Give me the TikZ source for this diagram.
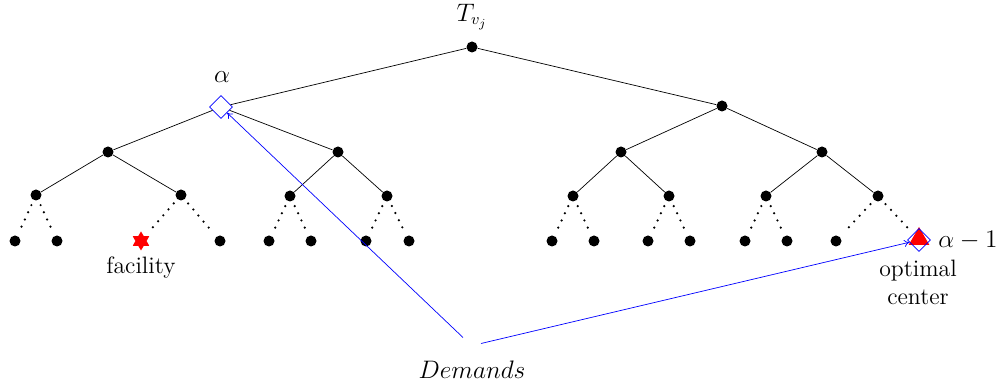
\documentclass[tikz,border=0pt]{standalone}
\usepackage{amsmath,amssymb}
\usetikzlibrary{arrows.meta,positioning,shapes.geometric}

\tikzset{
  vtx/.style={circle,fill=black,inner sep=0pt,minimum size=0.22cm},
  dia/.style={diamond,draw=blue,inner sep=0pt,minimum size=0.46cm},
  lbl/.style={font=\fontsize{13.5}{16}\selectfont},
  dots/.style={line width=1.4pt,dash pattern=on 0pt off 4.5pt,line cap=round,shorten <=3pt,shorten >=3pt},
  dem/.style={draw=blue,-{To[length=3pt,width=4pt]}}
}

\begin{document}
\begin{tikzpicture}[scale=1]
			\useasboundingbox (0,0) rectangle (20,7.74);
			% top
			\node[vtx] (r) at (9.44,6.80) {};
			\node[dia] (a) at (4.42,5.60) {};
			\node[vtx] (b) at (14.44,5.62) {};
			\node[lbl] (rl) at (9.44,7.40) {$T_{v_j}$};
			\node[lbl] (al) at (4.44,6.20) {$\alpha$};

			% second level
			\node[vtx] (a1) at (2.16,4.70) {};
			\node[vtx] (a2) at (6.76,4.70) {};
			\node[vtx] (b1) at (12.42,4.70) {};
			\node[vtx] (b2) at (16.44,4.70) {};

			% third level
			\node[vtx] (c1) at (0.72,3.84) {};
			\node[vtx] (c2) at (3.62,3.84) {};
			\node[vtx] (c3) at (5.80,3.82) {};
			\node[vtx] (c4) at (7.74,3.82) {};
			\node[vtx] (c5) at (11.46,3.82) {};
			\node[vtx] (c6) at (13.38,3.82) {};
			\node[vtx] (c7) at (15.32,3.82) {};
			\node[vtx] (c8) at (17.56,3.82) {};

			% leaves
			\node[vtx] (l1) at (0.30,2.92) {};
			\node[vtx] (l2) at (1.14,2.92) {};
			\node[star,star points=6,star point ratio=1.7,fill=red,inner sep=0pt,minimum size=0.38cm] (l3) at (2.82,2.92) {};
			\node[vtx] (l4) at (4.40,2.92) {};
			\node[vtx] (l5) at (5.38,2.92) {};
			\node[vtx] (l6) at (6.22,2.92) {};
			\node[vtx] (l7) at (7.32,2.92) {};
			\node[vtx] (l8) at (8.18,2.92) {};
			\node[vtx] (l9) at (11.04,2.92) {};
			\node[vtx] (l10) at (11.88,2.92) {};
			\node[vtx] (l11) at (12.96,2.92) {};
			\node[vtx] (l12) at (13.80,2.92) {};
			\node[vtx] (l13) at (14.90,2.92) {};
			\node[vtx] (l14) at (15.74,2.92) {};
			\node[vtx] (l15) at (16.72,2.92) {};
			\node[isosceles triangle,isosceles triangle apex angle=60,shape border rotate=90,fill=red,inner sep=0pt,minimum height=0.36cm] (l16) at (18.38,2.96) {};
			\node[dia] (o) at (18.38,2.94) {};

			\node[lbl] (fl) at (2.82,2.38) {facility};
			\node[lbl,align=center] (ol) at (18.36,2.1) {optimal\\center};
			\node[lbl] (ml) at (19.36,2.94) {$\alpha-1$};
			\node[lbl] (dl) at (9.44,0.34) {$Demands$};
			\coordinate (d1) at (9.26,0.99);
			\coordinate (d2) at (9.62,0.87);

			\draw (r) -- (a);
			\draw (r) -- (b);
			\draw (a) -- (a1);
			\draw (a) -- (a2);
			\draw (b) -- (b1);
			\draw (b) -- (b2);
			\draw (a1) -- (c1);
			\draw (a1) -- (c2);
			\draw (a2) -- (c3);
			\draw (a2) -- (c4);
			\draw (b1) -- (c5);
			\draw (b1) -- (c6);
			\draw (b2) -- (c7);
			\draw (b2) -- (c8);

			\foreach \p/\u/\v in {c1/l1/l2,c2/l3/l4,c3/l5/l6,c4/l7/l8,c5/l9/l10,c6/l11/l12,c7/l13/l14,c8/l15/o}
			{
				\draw[dots] (\p) -- (\u);
				\draw[dots] (\p) -- (\v);
			}

			\draw[dem] (d1) -- (a);
			\draw[dem] (d2) -- (o);
		\end{tikzpicture}
\end{document}
